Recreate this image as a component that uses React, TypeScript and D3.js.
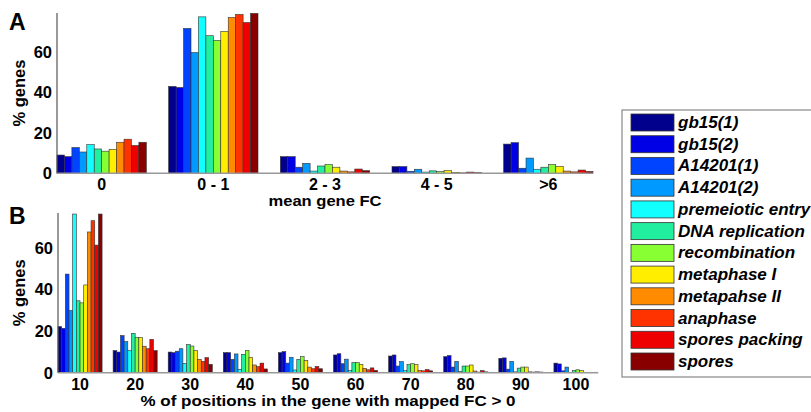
import React from 'react';
import * as d3 from 'd3';

// samples (legend order)
const samples = [
  'gb15(1)', 'gb15(2)', 'A14201(1)', 'A14201(2)', 'premeiotic entry', 'DNA replication',
  'recombination', 'metaphase I', 'metapahse II', 'anaphase', 'spores packing', 'spores',
];
const colors = [
  '#00008c', '#0000e6', '#0044ff', '#0099ff', '#11ffff', '#22eea0',
  '#88ff33', '#ffee00', '#ff8c00', '#ff3300', '#ee0000', '#880000',
];

// panel A: mean gene FC bins
const binsA = ['0', '0 - 1', '2 - 3', '4 - 5', '>6'];
const valuesA = [
  [9.0, 8.2, 12.7, 10.5, 14.1, 12.0, 10.9, 11.8, 15.3, 16.8, 13.7, 15.3],
  [42.8, 42.3, 71.4, 59.5, 77.1, 67.8, 65.5, 69.9, 76.8, 78.3, 74.3, 78.8],
  [8.2, 8.2, 3.0, 4.9, 1.1, 3.6, 4.3, 3.0, 1.1, 0.7, 2.1, 1.3],
  [3.3, 3.3, 1.0, 2.0, 0.6, 1.2, 0.8, 1.3, 0.4, 0.2, 0.6, 0.3],
  [14.4, 15.1, 2.5, 7.5, 2.0, 3.0, 4.3, 3.4, 1.1, 0.7, 1.6, 0.9],
];

// panel B: % of positions with mapped FC > 0
const binsB = ['10', '20', '30', '40', '50', '60', '70', '80', '90', '100'];
const valuesB = [
  [22.1, 21.3, 47.3, 29.8, 76.1, 34.5, 33.5, 42.1, 67.5, 72.9, 61.2, 76.1],
  [10.6, 9.9, 17.8, 14.9, 10.6, 18.9, 17.0, 16.8, 12.7, 11.5, 16.0, 10.6],
  [9.9, 9.6, 10.3, 11.5, 4.5, 13.5, 12.8, 10.6, 6.4, 5.4, 7.2, 4.0],
  [9.6, 9.6, 6.4, 9.0, 1.6, 8.8, 10.6, 7.4, 3.7, 2.9, 4.6, 1.8],
  [9.6, 10.1, 4.6, 7.4, 1.3, 6.4, 7.7, 5.9, 2.7, 1.9, 3.0, 1.9],
  [8.5, 9.1, 4.3, 6.5, 1.0, 4.8, 4.8, 4.0, 2.1, 1.4, 2.3, 1.1],
  [8.0, 8.5, 3.2, 5.3, 1.0, 3.9, 4.3, 3.9, 1.1, 0.9, 1.5, 0.9],
  [7.7, 8.2, 2.7, 5.4, 0.6, 3.2, 3.2, 3.7, 0.8, 0.3, 1.0, 0.4],
  [6.9, 7.1, 1.7, 5.4, 0.4, 2.2, 2.7, 2.7, 0.4, 0.3, 0.4, 0.3],
  [4.6, 4.2, 0.9, 2.7, 0.2, 1.0, 1.4, 1.0, 0.2, 0.2, 0.2, 0.2],
];
const yTicks = [0, 20, 40, 60];

const FONT = '"Liberation Sans", Arial, sans-serif';

type PanelProps = {
  bins: string[];
  values: number[][];
  x0: number; x1: number; y0: number; y1: number;
  yMax: number;
  letter: string; letterY: number;
  xLabel: string; xLabelDy: number; xLabelW: number;
};

function Panel({ bins, values, x0, x1, y0, y1, yMax, letter, letterY, xLabel, xLabelDy, xLabelW }: PanelProps) {
  const n = bins.length;
  // MATLAB-like xlim [0.6, n+0.4], group width 0.8
  const x = d3.scaleLinear().domain([0.6, n + 0.4]).range([x0, x1]);
  const y = d3.scaleLinear().domain([0, yMax]).range([y1, y0]);
  const groupW = x(1.8) - x(1);
  const barW = groupW / samples.length;
  return (
    <g>
      <text x={9} y={letterY} fontFamily={FONT} fontWeight="bold" fontSize={23}>{letter}</text>
      {values.map((row, gi) => (
        <g key={gi}>
          {row.map((v, si) => (
            <rect key={si}
              x={x(gi + 1) - groupW / 2 + si * barW}
              y={y(v)}
              width={barW}
              height={y(0) - y(v)}
              fill={colors[si]}
              stroke="#333"
              strokeWidth={0.6} />
          ))}
        </g>
      ))}
      <line x1={x0} x2={x1} y1={y1} y2={y1} stroke="#999" strokeWidth={1.5} />
      <line x1={x0} x2={x0} y1={y0} y2={y1} stroke="#555" strokeWidth={1.2} />
      {yTicks.map(t => (
        <text key={t} x={x0 - 5} y={y(t) + 6} textAnchor="end"
          fontFamily={FONT} fontWeight="bold" fontSize={16.5}>{t}</text>
      ))}
      {bins.map((b, i) => (
        <text key={b} x={x(i + 1)} y={y1 + 17} textAnchor="middle"
          fontFamily={FONT} fontWeight="bold" fontSize={16}>{b}</text>
      ))}
      <text x={(x0 + x1) / 2} y={y1 + xLabelDy} textAnchor="middle"
        textLength={xLabelW} lengthAdjust="spacingAndGlyphs"
        fontFamily={FONT} fontWeight="bold" fontSize={14.5}>{xLabel}</text>
      <text transform={`translate(${25},${(y0 + y1) / 2}) rotate(-90)`} textAnchor="middle"
        fontFamily={FONT} fontWeight="bold" fontSize={16.5}>% genes</text>
    </g>
  );
}

export default function App() {
  const legendY = d3.scaleLinear().domain([0, samples.length - 1]).range([114, 353]);
  return (
    <svg width={811} height={412} style={{ position: 'absolute', left: 0, top: 0, background: '#fff' }}>
      <Panel bins={binsA} values={valuesA} x0={57} x1={593} y0={13} y1={173.3} yMax={79}
        letter="A" letterY={30} xLabel="mean gene FC" xLabelDy={33} xLabelW={113} />
      <Panel bins={binsB} values={valuesB} x0={58} x1={598} y0={213} y1={372.7} yMax={76.6}
        letter="B" letterY={224} xLabel="% of positions in the gene with mapped FC > 0"
        xLabelDy={33} xLabelW={375} />
      <rect x={622} y={110} width={200} height={267} fill="none" stroke="#888" strokeWidth={1.2} />
      {samples.map((s, i) => (
        <g key={s}>
          <rect x={631} y={legendY(i)} width={43} height={17} fill={colors[i]} stroke="#333" strokeWidth={0.8} />
          <text x={678} y={legendY(i) + 14} fontFamily={FONT} fontWeight="bold" fontStyle="italic"
            fontSize={17}>{s}</text>
        </g>
      ))}
    </svg>
  );
}
